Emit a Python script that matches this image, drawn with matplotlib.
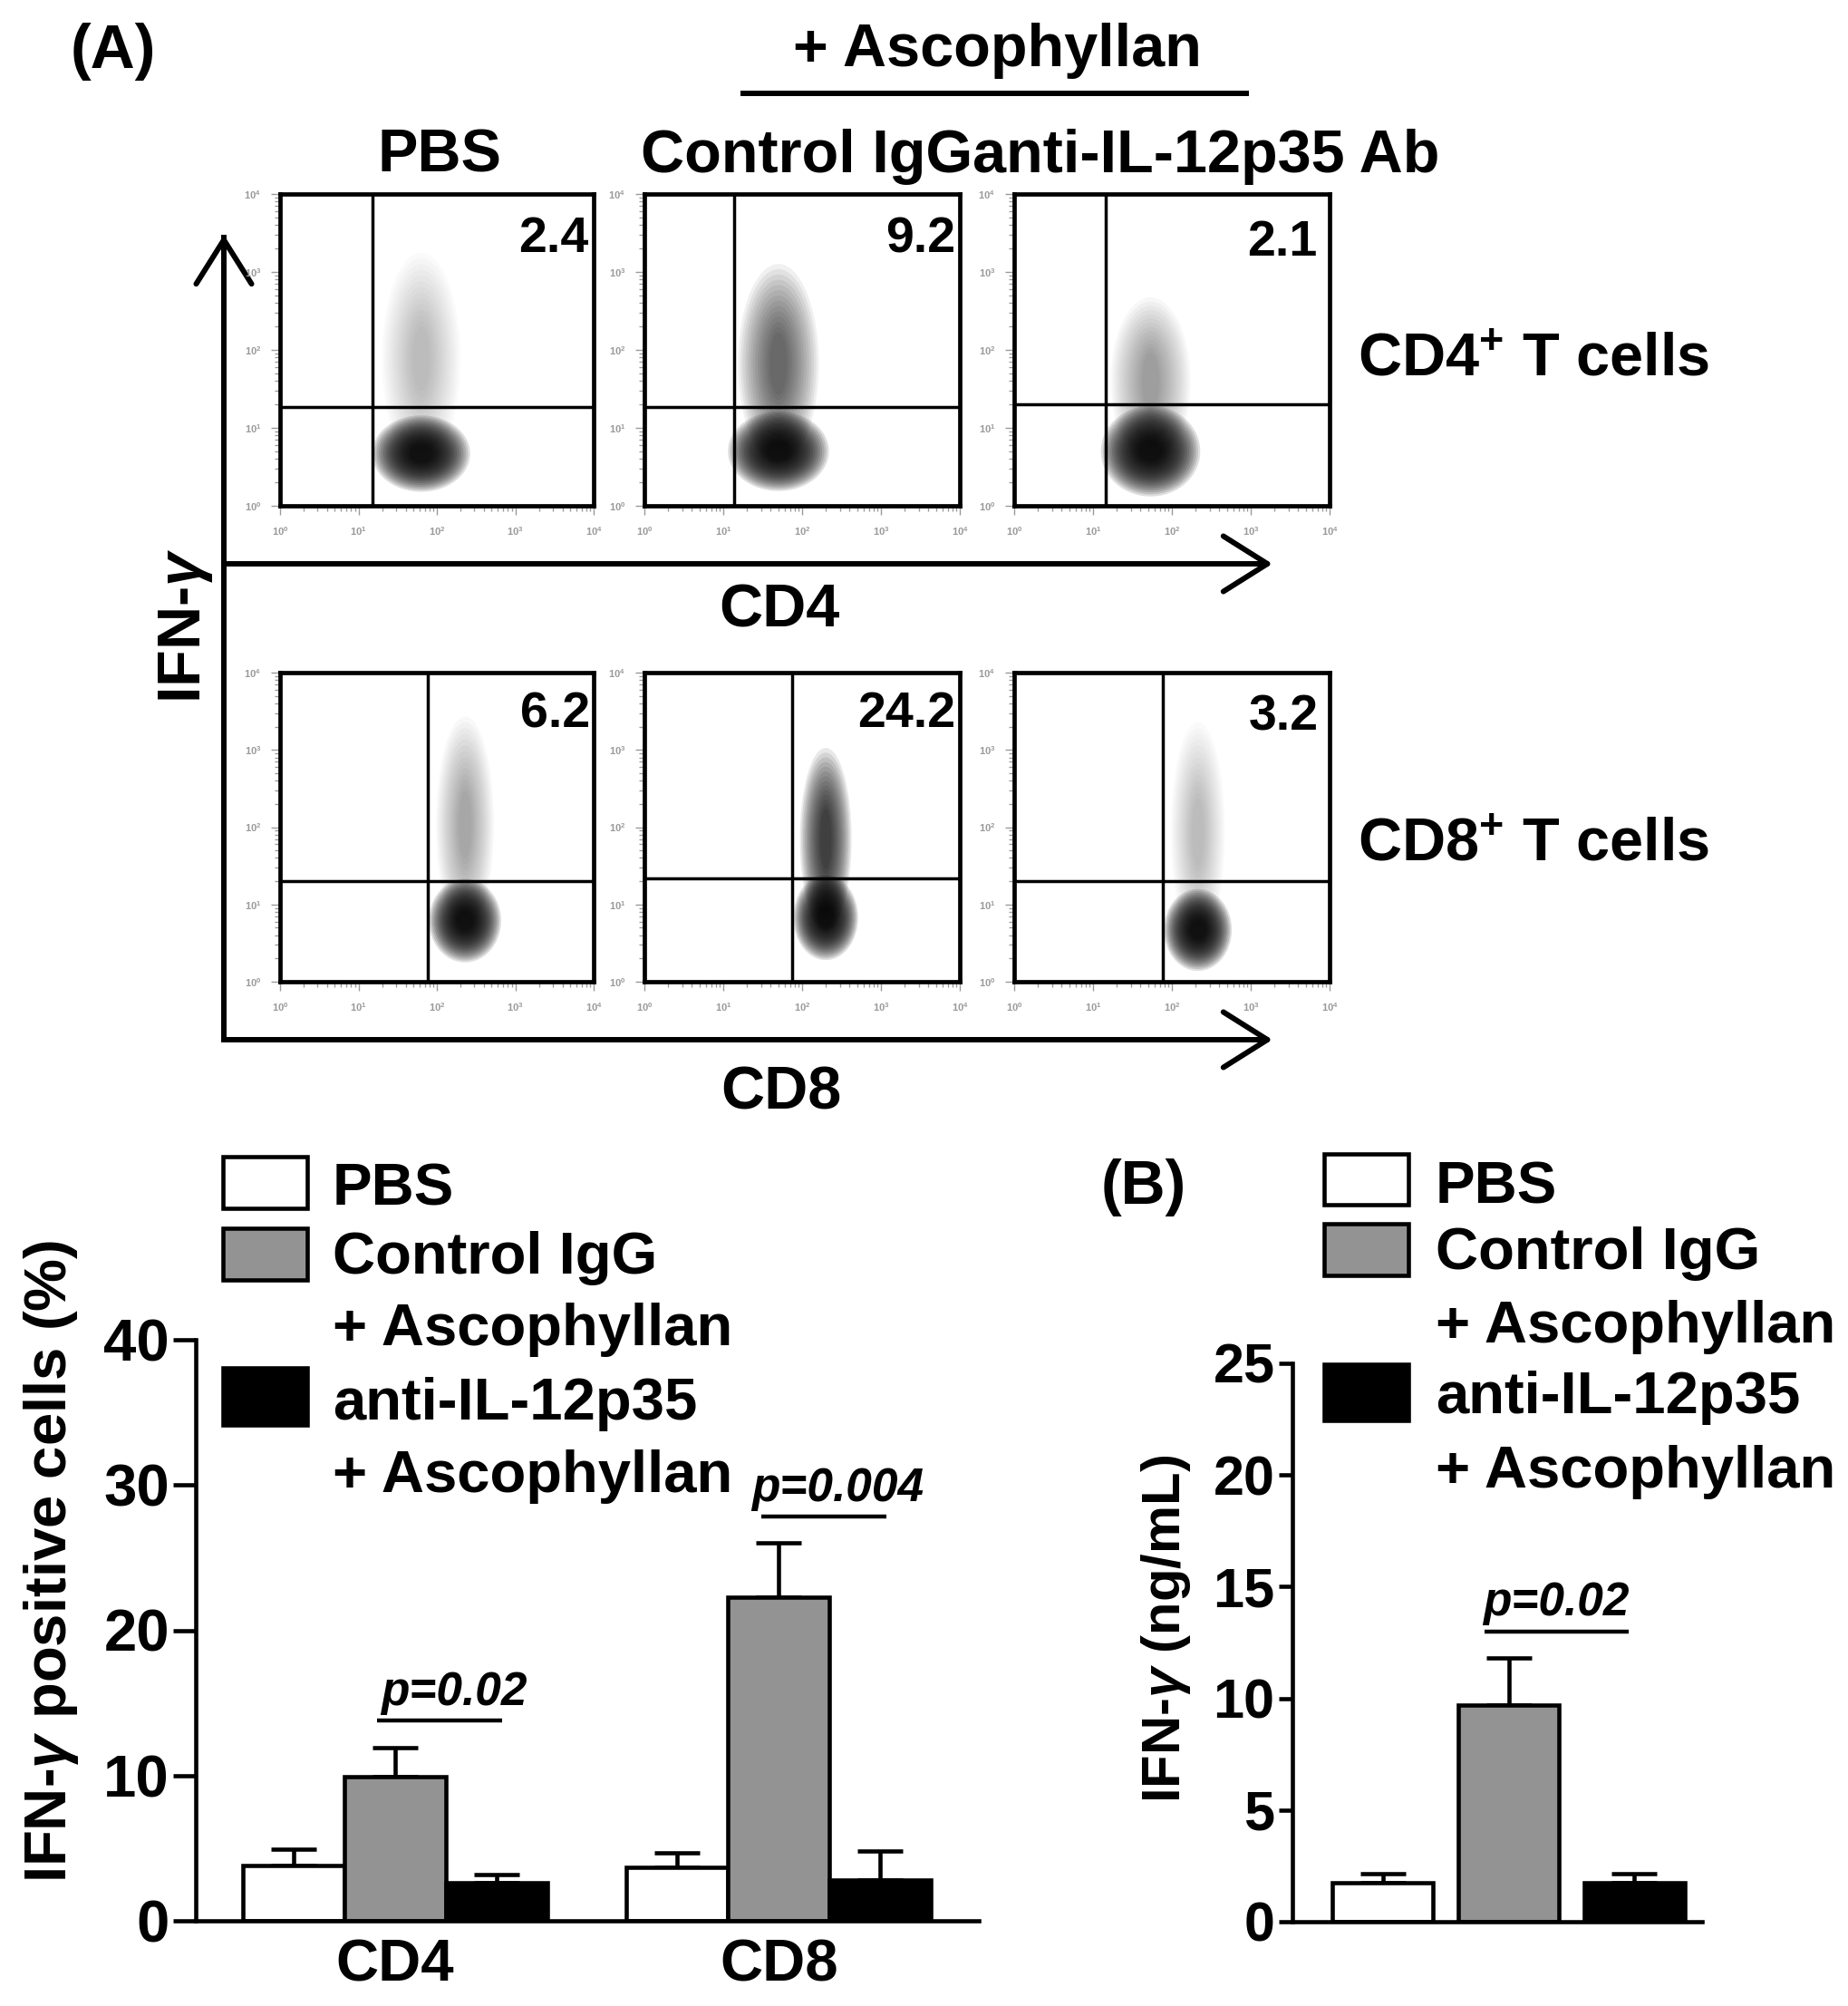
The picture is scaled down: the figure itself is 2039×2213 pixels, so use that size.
import matplotlib
matplotlib.use('Agg')
import matplotlib.pyplot as plt
import numpy as np
from matplotlib.patches import Ellipse, Rectangle

plt.rcParams['font.family'] = ['Liberation Sans', 'DejaVu Sans']
plt.rcParams['font.weight'] = 'bold'
plt.rcParams['mathtext.fontset'] = 'custom'
plt.rcParams['mathtext.rm'] = 'Liberation Sans:bold'
plt.rcParams['mathtext.it'] = 'Liberation Sans:italic'
plt.rcParams['mathtext.bf'] = 'Liberation Sans:bold'

# ---- data ----
# flow panels: rows = CD4, CD8 ; columns = PBS, Control IgG, anti-IL-12p35
col_labels = ['PBS', 'Control IgG', 'anti-IL-12p35 Ab']
row_labels = ['CD4$^{+}$ T cells', 'CD8$^{+}$ T cells']
quad_pct = [['2.4', '9.2', '2.1'], ['6.2', '24.2', '3.2']]
# gates (log decades)
gate_x = [[1.18, 1.14, 1.16], [1.88, 1.87, 1.88]]
gate_y = [[1.27, 1.27, 1.30], [1.30, 1.34, 1.30]]
# main cloud centre / size (log decades) and upper tail
cloud_x = [[1.80, 1.70, 1.73], [2.36, 2.30, 2.33]]
cloud_y = [[0.67, 0.70, 0.70], [0.79, 0.83, 0.67]]
cloud_w = [[1.25, 1.28, 1.26], [0.92, 0.82, 0.86]]
cloud_h = [[0.98, 1.02, 1.16], [1.08, 1.10, 1.06]]
tail_top = [[3.1, 2.95, 2.5], [3.27, 2.86, 3.2]]
tail_alpha = [[0.018, 0.06, 0.03], [0.028, 0.09, 0.02]]

# (A) bar chart: % IFN-g positive cells
groups = ['CD4', 'CD8']
pbs_pct = [3.8, 3.7]
igg_pct = [9.9, 22.3]
anti_pct = [2.6, 2.8]
pbs_pct_err = [1.1, 0.95]
igg_pct_err = [2.0, 3.7]
anti_pct_err = [0.6, 2.0]
pct_pvals = ['p=0.02', 'p=0.004']
pct_pline = [13.8, 27.85]

# (B) IFN-g ng/mL
ifn_mean = [1.75, 9.7, 1.75]
ifn_err = [0.4, 2.1, 0.4]
ifn_pval = 'p=0.02'
ifn_pline = 13.0

treat_names = ['PBS', 'Control IgG\n+ Ascophyllan', 'anti-IL-12p35\n+ Ascophyllan']
treat_colors = ['white', '#939393', 'black']

W, H = 2039, 2213
fig = plt.figure(figsize=(W / 100, H / 100), dpi=100)


def rect(x0, y0, x1, y1):
    return [x0 / W, 1 - y1 / H, (x1 - x0) / W, (y1 - y0) / H]


# overlay in pixel coordinates for labels / arrows
ov = fig.add_axes([0, 0, 1, 1])
ov.set_xlim(0, W)
ov.set_ylim(H, 0)
ov.axis('off')
ov.set_zorder(-1)

FS = 48
ov.text(78, 75, '(A)', fontsize=49, ha='left', va='baseline')
ov.text(875, 73, '+ Ascophyllan', fontsize=FS, ha='left', va='baseline')
ov.plot([817, 1378], [103, 103], color='k', lw=4.3, solid_capstyle='butt')
ov.text(485, 190, col_labels[0], fontsize=FS, ha='center', va='baseline')
ov.text(1073, 190, col_labels[1], fontsize=FS, ha='right', va='baseline')
ov.text(1073, 190, col_labels[2], fontsize=FS, ha='left', va='baseline')
ov.text(1498, 415, row_labels[0], fontsize=FS, ha='left', va='baseline')
ov.text(1498, 950, row_labels[1], fontsize=FS, ha='left', va='baseline')
ov.text(860, 692, 'CD4', fontsize=FS, ha='center', va='baseline')
ov.text(862, 1224, 'CD8', fontsize=FS, ha='center', va='baseline')
ov.text(205, 690, r'IFN-$\gamma$', fontsize=FS, rotation=90, ha='center', va='center')

arr = dict(arrowstyle='->,head_length=3.5,head_width=2.2', lw=4.3, color='k',
           mutation_scale=10, shrinkA=0, shrinkB=0)
ov.plot([247, 247], [1147, 262], color='k', lw=4.3)
ov.annotate('', xy=(247, 259), xytext=(247, 1147), arrowprops=arr)
ov.annotate('', xy=(1404, 622), xytext=(247, 622), arrowprops=arr)
ov.annotate('', xy=(1404, 1147), xytext=(247, 1147), arrowprops=arr)

# ---- flow panels ----
col_px = [(309, 655), (711, 1059), (1119, 1467)]
row_px = [(214, 558), (742, 1083)]
num_pos = [[(0.985, 0.93), (0.985, 0.93), (0.96, 0.92)],
           [(0.988, 0.94), (0.985, 0.94), (0.966, 0.93)]]
minor = [k + np.log10(m) for k in range(4) for m in range(2, 10)]
for r in range(2):
    for c in range(3):
        x0, x1 = col_px[c]
        y0, y1 = row_px[r]
        ax = fig.add_axes(rect(x0, y0, x1, y1))
        ax.set_xlim(0, 4)
        ax.set_ylim(0, 4)
        for s in ax.spines.values():
            s.set_linewidth(3.4)
        ax.set_xticks(range(5))
        ax.set_yticks(range(5))
        ax.set_xticks(minor, minor=True)
        ax.set_yticks(minor, minor=True)
        lab = [r'$10^{%d}$' % k for k in range(5)]
        ax.set_xticklabels(lab)
        ax.set_yticklabels(lab)
        ax.tick_params(which='both', colors='#9a9a9a', labelsize=8, width=1, direction='out')
        ax.tick_params(which='major', length=7, pad=8)
        ax.tick_params(which='minor', length=4)
        # tail of IFN-g+ events
        cx, cy = cloud_x[r][c], cloud_y[r][c]
        w, h = cloud_w[r][c], cloud_h[r][c]
        top = tail_top[r][c]
        for k in range(14):
            f = 1 - k * 0.06
            ax.add_patch(Ellipse((cx, (cy + top) / 2), w * 0.8 * f, (top - cy) * f + h * 0.3,
                                 facecolor='k', edgecolor='none', alpha=tail_alpha[r][c], zorder=1))
        # main cloud
        for k in range(18):
            f = 1 - k * 0.045
            ax.add_patch(Ellipse((cx, cy), w * f, h * f, facecolor='k', edgecolor='none',
                                 alpha=0.13, zorder=1))
        ax.axvline(gate_x[r][c], color='k', lw=2.5, zorder=3)
        ax.axhline(gate_y[r][c], color='k', lw=2.5, zorder=3)
        nx, ny = num_pos[r][c]
        ax.text(nx, ny, quad_pct[r][c], transform=ax.transAxes, fontsize=40,
                ha='right', va='top', zorder=4)


def legend(x_box, x_text, tops):
    # tops: (top, bottom) of boxes; baselines of text lines
    boxes, base = tops
    for (bt, bb), col in zip(boxes, treat_colors):
        ov.add_patch(Rectangle((x_box, bt), 93, bb - bt, facecolor=col, edgecolor='k', lw=3.3))
    lines = [treat_names[0]] + treat_names[1].split('\n') + treat_names[2].split('\n')
    for t, b in zip(lines, base):
        ov.text(x_text, b, t, fontsize=47, ha='left', va='baseline')


legend(246, 367, ([(1276, 1333), (1355, 1412), (1509, 1572)], [1330, 1405, 1484, 1566, 1646]))
legend(1461, 1584, ([(1273, 1329), (1350, 1407), (1505, 1567)], [1327, 1400, 1481, 1559, 1641]))

LW = 3.3

# ---- left bar chart ----
axl = fig.add_axes(rect(216, 1478, 1080, 2119))
gx = np.array([1.96, 5.745])
means = [pbs_pct, igg_pct, anti_pct]
errs = [pbs_pct_err, igg_pct_err, anti_pct_err]
for i in range(3):
    xs = gx + (i - 1)
    axl.errorbar(xs, means[i], yerr=[np.zeros(2), errs[i]], fmt='none', ecolor='k',
                 elinewidth=LW, capsize=18, capthick=LW, zorder=1)
    axl.bar(xs, means[i], width=1.0, color=treat_colors[i], edgecolor='k', linewidth=LW, zorder=2)
for g in range(2):
    axl.plot([gx[g] - 0.17, gx[g] + 1.06], [pct_pline[g], pct_pline[g]], color='k', lw=3.2,
             solid_capstyle='butt')
    axl.text(gx[g] + 0.58, pct_pline[g] + 1.05, pct_pvals[g], fontsize=37, style='italic',
             ha='center', va='baseline')
axl.set_xlim(0, 864 / 112)
axl.set_ylim(0, 40)
axl.set_yticks([0, 10, 20, 30, 40])
axl.set_xticks(gx)
axl.set_xticklabels(groups)
axl.spines['top'].set_visible(False)
axl.spines['right'].set_visible(False)
axl.spines['left'].set_linewidth(LW)
axl.spines['bottom'].set_linewidth(LW)
axl.tick_params(axis='y', length=18, width=LW, labelsize=47, pad=3)
axl.tick_params(axis='x', length=0, labelsize=47, pad=14)
axl.patch.set_alpha(0)
ov.text(57, 1722, r'IFN-$\gamma$ positive cells (%)', fontsize=47, rotation=90,
        ha='center', va='center')

# ---- right bar chart (B) ----
axr = fig.add_axes(rect(1426, 1504, 1878, 2120))
bx = np.arange(3) * 1.25 + 0.9
for i in range(3):
    axr.errorbar(bx[i], ifn_mean[i], yerr=[[0], [ifn_err[i]]], fmt='none', ecolor='k',
                 elinewidth=LW, capsize=18, capthick=LW, zorder=1)
axr.bar(bx, ifn_mean, width=1.0, color=treat_colors, edgecolor='k', linewidth=LW, zorder=2)
axr.plot([bx[1] - 0.24, bx[2] - 0.06], [ifn_pline, ifn_pline], color='k', lw=3.2,
         solid_capstyle='butt')
axr.text(bx[1] + 0.47, ifn_pline + 0.72, ifn_pval, fontsize=37, style='italic',
         ha='center', va='baseline')
axr.set_xlim(0, 452 / 111)
axr.set_ylim(0, 25)
axr.set_yticks([0, 5, 10, 15, 20, 25])
axr.set_xticks([])
axr.spines['top'].set_visible(False)
axr.spines['right'].set_visible(False)
axr.spines['left'].set_linewidth(LW)
axr.spines['bottom'].set_linewidth(LW)
axr.tick_params(axis='y', length=11, width=LW, labelsize=44, pad=3)
axr.patch.set_alpha(0)
ov.text(1286, 1797, r'IFN-$\gamma$ (ng/mL)', fontsize=43, rotation=90, ha='center', va='center')
ov.text(1215, 1328, '(B)', fontsize=49, ha='left', va='baseline')

fig.savefig('out.png', dpi=100)
